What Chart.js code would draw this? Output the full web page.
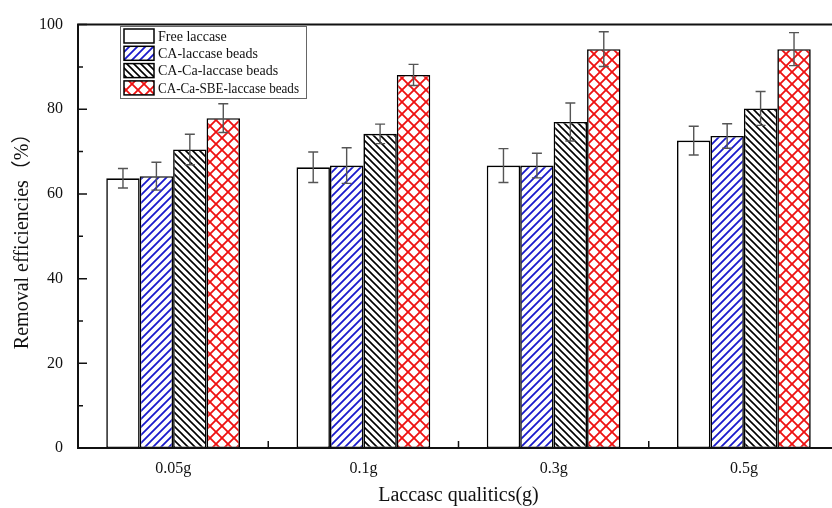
<!DOCTYPE html>
<html>
<head>
<meta charset="utf-8">
<script src="https://cdn.jsdelivr.net/npm/chart.js@4/dist/chart.umd.min.js"></script>
<style>
  html, body { margin: 0; padding: 0; background: #fff; overflow: hidden; }
  #wrap { width: 832px; height: 508px; overflow: hidden; }
  #box { width: 860px; height: 508px; }
</style>
</head>
<body>
<div id="wrap"><div id="box"><canvas id="c"></canvas></div></div>
<script>
const categories = ['0.05g', '0.1g', '0.3g', '0.5g']
const seriesNames = ['Free laccase', 'CA-laccase beads', 'CA-Ca-laccase beads', 'CA-Ca-SBE-laccase beads']
const freeLaccase = [63.7, 66.3, 66.7, 72.6]
const freeLaccaseErr = [2.3, 3.6, 4.0, 3.4]
const caBeads = [64.2, 66.7, 66.7, 73.7]
const caBeadsErr = [3.3, 4.2, 2.9, 2.9]
const caCaBeads = [70.5, 74.2, 77.0, 80.2]
const caCaBeadsErr = [3.6, 2.3, 4.5, 4.0]
const sbeBeads = [77.9, 88.1, 94.2, 94.2]
const sbeBeadsErr = [3.4, 2.5, 4.1, 3.9]
const yTicks = [0, 20, 40, 60, 80, 100]

const serif = "'Liberation Serif', 'Times New Roman', 'Noto Sans CJK SC', serif"

// hatch fills
function hatch(color, kind, size, lw) {
    const cv = document.createElement('canvas')
    cv.width = size
    cv.height = size
    const g = cv.getContext('2d')
    g.fillStyle = '#fff'
    g.fillRect(0, 0, size, size)
    g.strokeStyle = color
    g.lineWidth = lw
    const fwd = () => {
        g.beginPath()
        g.moveTo(-1, size + 1); g.lineTo(size + 1, -1)
        g.moveTo(-size / 2, size / 2); g.lineTo(size / 2, -size / 2)
        g.moveTo(size / 2, size * 1.5); g.lineTo(size * 1.5, size / 2)
        g.stroke()
    }
    const back = () => {
        g.beginPath()
        g.moveTo(-1, -1); g.lineTo(size + 1, size + 1)
        g.moveTo(size / 2, -size / 2); g.lineTo(size * 1.5, size / 2)
        g.moveTo(-size / 2, size / 2); g.lineTo(size / 2, size * 1.5)
        g.stroke()
    }
    if (kind === 'fwd' || kind === 'cross') fwd()
    if (kind === 'back' || kind === 'cross') back()
    return g.createPattern(cv, 'repeat')
}

const ctx = document.getElementById('c').getContext('2d')
const fills = ['#ffffff', hatch('#1a1acc', 'fwd', 8, 1.8), hatch('#000000', 'back', 7, 1.6), hatch('#ee1111', 'cross', 12, 1.8)]
const values = [freeLaccase, caBeads, caCaBeads, sbeBeads]
const errors = [freeLaccaseErr, caBeadsErr, caCaBeadsErr, sbeBeadsErr]

const errorBars = {
    id: 'errorBars',
    afterDatasetsDraw(chart) {
        const c = chart.ctx
        const y = chart.scales.y
        c.save()
        c.strokeStyle = '#555'
        c.lineWidth = 1.4
        chart.data.datasets.forEach((ds, i) => {
            const meta = chart.getDatasetMeta(i)
            meta.data.forEach((bar, j) => {
                const v = ds.data[j], e = ds.errors[j]
                const top = y.getPixelForValue(v + e)
                const bot = y.getPixelForValue(v - e)
                c.beginPath()
                c.moveTo(bar.x, top); c.lineTo(bar.x, bot)
                c.moveTo(bar.x - 5, top); c.lineTo(bar.x + 5, top)
                c.moveTo(bar.x - 5, bot); c.lineTo(bar.x + 5, bot)
                c.stroke()
            })
        })
        c.restore()
    }
}

const frame = {
    id: 'frame',
    afterDraw(chart) {
        const c = chart.ctx
        const a = chart.chartArea
        const y = chart.scales.y
        const x = chart.scales.x
        c.save()
        c.strokeStyle = '#111'
        c.lineWidth = 2
        c.beginPath()
        c.moveTo(a.left, a.top); c.lineTo(a.right, a.top); c.lineTo(a.right, a.bottom)
        c.lineTo(a.left, a.bottom); c.closePath()
        c.stroke()
        c.lineWidth = 1.5
        c.beginPath()
        for (let v = 0; v <= 100; v += 10) {
            const p = y.getPixelForValue(v)
            const len = v % 20 === 0 ? 9 : 5
            c.moveTo(a.left, p); c.lineTo(a.left + len, p)
        }
        for (let i = 0; i < categories.length - 1; i++) {
            const p = (x.getPixelForValue(i) + x.getPixelForValue(i + 1)) / 2
            c.moveTo(p, a.bottom); c.lineTo(p, a.bottom - 7)
        }
        c.stroke()

        // legend box
        const lx = 120, ly = 26, lw = 186, lh = 72
        c.fillStyle = '#fff'
        c.fillRect(lx, ly, lw, lh)
        c.strokeStyle = '#666'
        c.lineWidth = 1
        c.strokeRect(lx + 0.5, ly + 0.5, lw, lh)
        c.font = '14px ' + serif
        c.textBaseline = 'middle'
        chart.data.datasets.forEach((ds, i) => {
            const ry = ly + 10 + i * 17.3
            c.fillStyle = ds.backgroundColor
            c.fillRect(lx + 4, ry - 7, 30, 14)
            c.strokeStyle = '#000'
            c.lineWidth = 1.5
            c.strokeRect(lx + 4, ry - 7, 30, 14)
            c.fillStyle = '#111'
            c.fillText(ds.label, lx + 38, ry + 1, 141)
        })
        c.restore()
    }
}

new Chart(ctx, {
    type: 'bar',
    data: {
        labels: categories,
        datasets: seriesNames.map((name, i) => ({
            label: name,
            data: values[i],
            errors: errors[i],
            backgroundColor: fills[i],
            borderColor: '#000',
            borderWidth: 1.6,
            borderSkipped: false,
            categoryPercentage: 0.703,
            barPercentage: 1
        }))
    },
    options: {
        responsive: true,
        maintainAspectRatio: false,
        animation: false,
        layout: { padding: { top: 18, right: 21, bottom: 0, left: 0 } },
        plugins: {
            legend: { display: false },
            tooltip: { enabled: false }
        },
        scales: {
            x: {
                grid: { display: false, drawTicks: false },
                border: { display: false },
                ticks: { color: '#111', font: { family: serif, size: 16 }, padding: 11 },
                title: { display: true, text: 'Laccasc qualitics(g)', color: '#111', font: { family: serif, size: 20 }, padding: { top: 4, bottom: 0 } },
                afterFit: (s) => { s.height = 60 }
            },
            y: {
                min: 0,
                max: 100,
                afterBuildTicks: (s) => { s.ticks = yTicks.map(v => ({ value: v })) },
                grid: { display: false, drawTicks: false },
                border: { display: false },
                ticks: { color: '#111', font: { family: serif, size: 16 }, padding: 15 },
                title: { display: true, text: 'Removal efficiencies（%）', color: '#111', font: { family: serif, size: 20 }, padding: { top: 11, bottom: 0 } },
                afterFit: (s) => { s.width = 78 }
            }
        }
    },
    plugins: [errorBars, frame]
})
</script>
</body>
</html>
